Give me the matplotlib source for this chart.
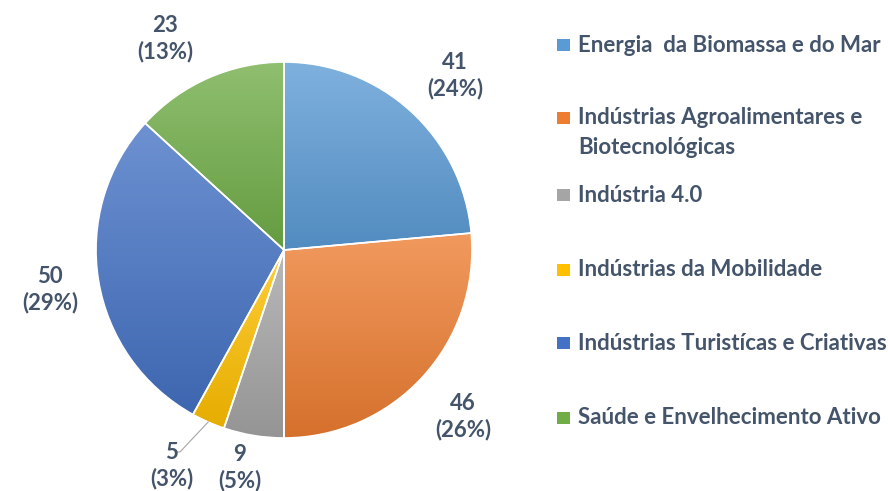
import numpy as np
import matplotlib
matplotlib.use("Agg")
import matplotlib.pyplot as plt
from matplotlib.colors import to_rgb
from matplotlib.patches import Rectangle

categories = ["Energia  da Biomassa e do Mar",
              "Indústrias Agroalimentares e\nBiotecnológicas",
              "Indústria 4.0",
              "Indústrias da Mobilidade",
              "Indústrias Turistícas e Criativas",
              "Saúde e Envelhecimento Ativo"]
values = [41, 46, 9, 5, 50, 23]
percent_labels = ["24%", "26%", "5%", "3%", "29%", "13%"]

colors = ["#5B9BD5", "#ED7D31", "#A5A5A5", "#FFC000", "#4472C4", "#70AD47"]
# label placement style: radial distance and angular nudge (deg) per slice
label_dist = [1.305, 1.295, 1.173, 1.30, 1.261, 1.298]
label_dang = [-1.8, -0.3, -2.2, 0.0, -0.1, 5.4]
TXT = "#44546A"
FONT = "Lato"
FS = 16
LINE = 29  # px between legend lines

W, H = 888, 491
fig = plt.figure(figsize=(W / 100, H / 100), dpi=100)
R = 188.0
cx, cy = 284.0, 250.0
ax = fig.add_axes([0, 0, 1, 1])
wedges, _ = ax.pie(values, startangle=90, counterclock=False, colors=colors,
                   wedgeprops=dict(edgecolor="white", linewidth=1.2))
ax.set_aspect("auto")
ax.axis("off")


def mix(c, t, other):
    c = np.array(to_rgb(c)); o = np.array(other)
    return c * (1 - t) + o * t


for w, c in zip(wedges, colors):
    bb = w.get_path().get_extents()
    top = mix(c, 0.22, (1, 1, 1))
    bot = mix(c, 0.10, (0, 0, 0))
    t = np.linspace(0, 1, 256)[:, None]
    grad = top[None, :] * (1 - t) + bot[None, :] * t
    img = np.repeat(grad[:, None, :], 2, axis=1)
    im = ax.imshow(img, extent=[bb.x0, bb.x1, bb.y0, bb.y1], origin="upper",
                   aspect="auto", zorder=1, interpolation="bilinear")
    im.set_clip_path(w)
    w.set_facecolor("none")
    w.set_zorder(2)

ax.set_xlim(-cx / R, (W - cx) / R)
ax.set_ylim(-(H - cy) / R, cy / R)

total = sum(values)
start = 90.0
for i, (v, p) in enumerate(zip(values, percent_labels)):
    span = 360.0 * v / total
    mid_deg = start - span / 2
    start -= span
    a = np.deg2rad(mid_deg + label_dang[i])
    d = label_dist[i]
    x, y = d * np.cos(a), d * np.sin(a)
    if v == 5:
        m = np.deg2rad(mid_deg)
        x0, y0 = np.cos(m), np.sin(m)
        ex, ey = -0.553, -1.074
        ax.plot([x0, ex, ex - 0.025], [y0, ey, ey], color="#A6A6A6", lw=0.8, zorder=3)
        x, y = ex - 0.043, ey - 0.064
    ax.text(x, y + 11.5 / R, str(v), ha="center", va="center", color=TXT,
            fontsize=FS, fontweight="bold", family=FONT)
    ax.text(x, y - 14.5 / R, f"({p})", ha="center", va="center", color=TXT,
            fontsize=FS, fontweight="bold", family=FONT)

# legend
ys = [45, 118, 195, 270, 343, 418]
for lab, c, yy in zip(categories, colors, ys):
    fig.add_artist(Rectangle((557 / W, 1 - (yy + 6) / H), 13 / W, 12 / H,
                             transform=fig.transFigure, facecolor=c, edgecolor="none"))
    for k, line in enumerate(lab.split("\n")):
        fig.text(578 / W, 1 - (yy + k * LINE) / H, line, ha="left", va="center",
                 color=TXT, fontsize=FS, fontweight="bold", family=FONT)

fig.savefig("out.png", dpi=100, facecolor="white")
